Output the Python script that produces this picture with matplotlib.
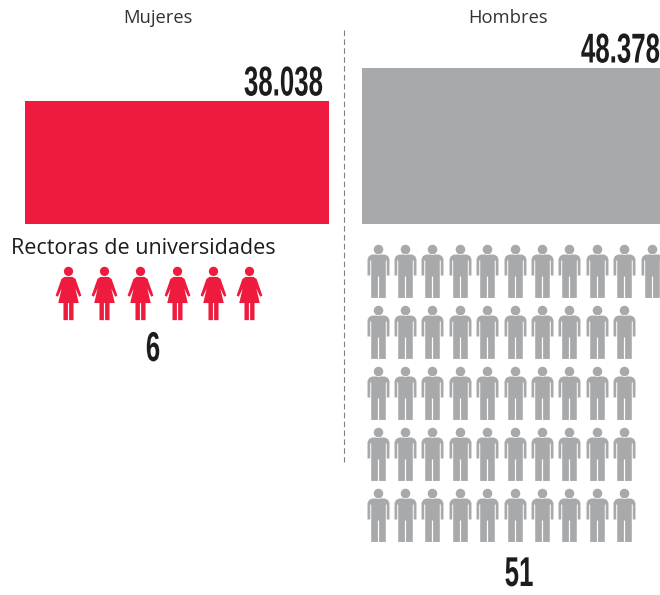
import numpy as np
import matplotlib
matplotlib.use("Agg")
import matplotlib.pyplot as plt
from matplotlib.path import Path
from matplotlib.patheffects import AbstractPathEffect
from matplotlib.transforms import Affine2D

# =========================
# DATA
# =========================

groups = ["Mujeres", "Hombres"]
students = [38038, 48378]
student_labels = ["38.038", "48.378"]
rectors = [6, 51]
rectors_label = "Rectoras de universidades"

RED = "#ee1b3e"
GREY = "#a8a9ab"
TEXT = "#1c1c1c"

# =========================
# CONDENSED TEXT
# =========================

# no condensed font here, so squeeze the glyphs around a given x
class Squeeze(AbstractPathEffect):
    def __init__(self, x0, sx):
        super().__init__()
        self.x0 = x0
        self.sx = sx

    def draw_path(self, renderer, gc, tpath, affine, rgbFace=None):
        squeeze = Affine2D().translate(-self.x0, 0).scale(self.sx, 1).translate(self.x0, 0)
        renderer.draw_path(gc, tpath, affine + squeeze, rgbFace)


def big_number(ax, x, y, s, ha):
    ax.text(x, y, s, ha=ha, va="baseline", fontsize=30, family="Liberation Sans", weight="bold",
            color=TEXT, path_effects=[Squeeze(x, 0.62)])


# =========================
# ICONS
# =========================

def icon(polys, head):
    verts, codes = [], []
    for p in polys:
        verts += list(p) + [p[0]]
        codes += [Path.MOVETO] + [Path.LINETO] * (len(p) - 1) + [Path.CLOSEPOLY]
    circle = Path.circle(head[:2], head[2])
    verts += circle.vertices.tolist()
    codes += circle.codes.tolist()
    return Path(verts, codes)


woman = icon([
    [(-4, 16.5), (4, 16.5), (7, 14.5), (12.8, -2), (10.6, -3.2), (6.8, 5), (10.2, -9.5), (-10.2, -9.5), (-6.8, 5), (-10.6, -3.2), (-12.8, -2), (-7, 14.5)],
    [(-5, -9.5), (-0.6, -9.5), (-0.6, -26.5), (-5, -26.5)],
    [(0.6, -9.5), (5, -9.5), (5, -26.5), (0.6, -26.5)],
], (0, 22, 4.6))

man = icon([
    [(-6.5, 17), (6.5, 17), (9.5, 15.5), (11, 12.5), (11, -4), (8.3, -4), (8.3, 11), (7.3, 11), (7.3, -26.5), (0.6, -26.5), (0.6, -5), (-0.6, -5), (-0.6, -26.5), (-7.3, -26.5), (-7.3, 11), (-8.3, 11), (-8.3, -4), (-11, -4), (-11, 12.5), (-9.5, 15.5)],
], (0, 22, 4.8))

# =========================
# PLOT
# =========================

fig = plt.figure(figsize=(6.6, 5.95), dpi=100)
ax = fig.add_axes([0, 0, 1, 1])
ax.set_xlim(0, 660)
ax.set_ylim(595, 0)
ax.axis("off")

# bars grow up from the same baseline
scale = 0.003225
ax.bar([176.5, 520], -np.array(students) * scale, width=[304, 316], bottom=224, color=[RED, GREY])

ax.plot([344, 344], [30, 462], color="#808080", lw=0.8, ls=(0, (5, 3)))

ax.text(158, 18, groups[0], ha="center", va="center", fontsize=13.2, family="Open Sans", color="#333333")
ax.text(508, 18, groups[1], ha="center", va="center", fontsize=13.2, family="Open Sans", color="#333333")

big_number(ax, 323, 95.5, student_labels[0], "right")
big_number(ax, 660, 62.5, student_labels[1], "right")

ax.text(11, 249, rectors_label, ha="left", va="center", fontsize=15.5, family="Open Sans", color=TEXT)

# pictograms
size = (53.5 * 0.72) ** 2
wx = [68 + 36.2 * i for i in range(rectors[0])]
ax.scatter(wx, [292.5] * rectors[0], marker=woman, s=size, color=RED, linewidths=0)

row_counts = [11, 10, 10, 10, 10]
mx, my = [], []
for r, n in enumerate(row_counts):
    for i in range(n):
        mx.append(377.5 + 27.4 * i)
        my.append(270.5 + 61.2 * r)
ax.scatter(mx[:rectors[1]], my[:rectors[1]], marker=man, s=size, color=GREY, linewidths=0)

big_number(ax, 153, 361, str(rectors[0]), "center")
big_number(ax, 519, 586, str(rectors[1]), "center")

fig.savefig("out.png", dpi=100, facecolor="white")
